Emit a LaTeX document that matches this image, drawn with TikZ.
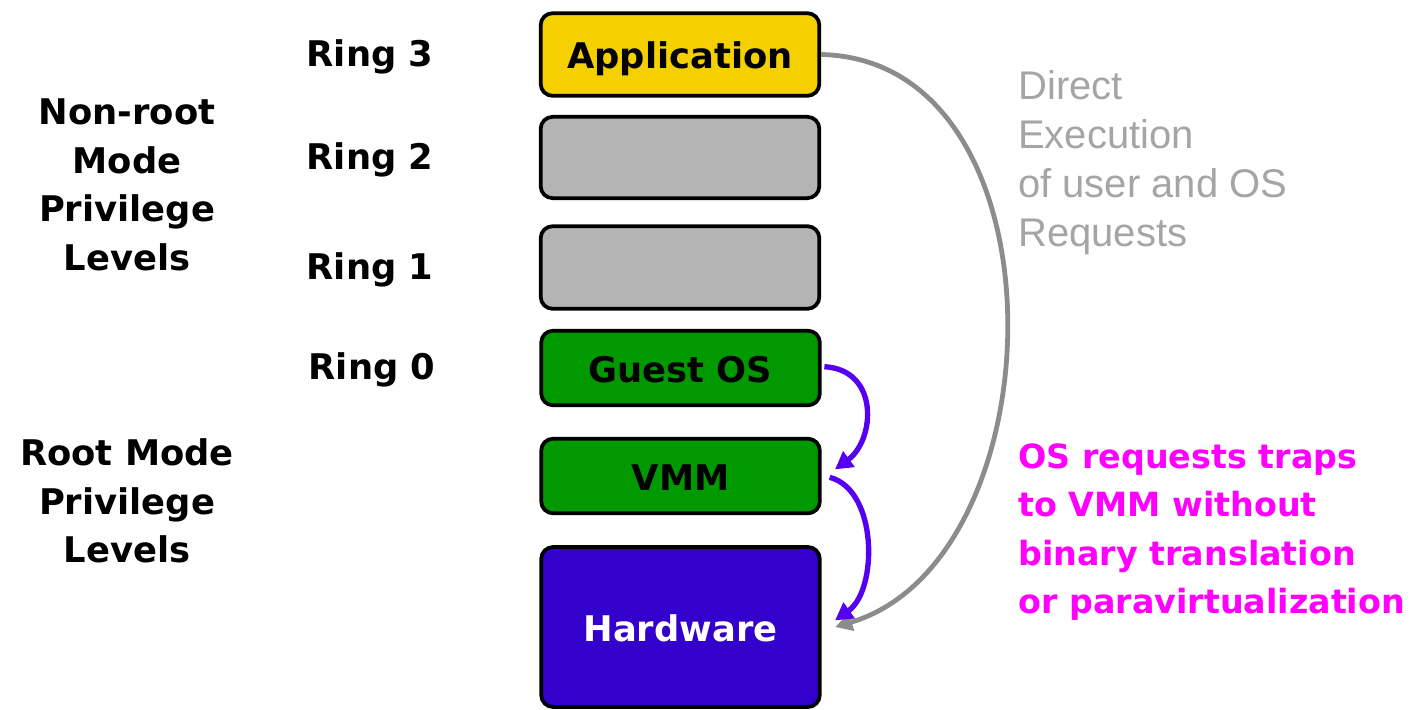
\documentclass[tikz,border=0pt]{standalone}
\usepackage{fontspec}
\setmainfont{DejaVu Sans}
\newfontfamily\arialfont{Liberation Sans}
\usetikzlibrary{arrows.meta}
\definecolor{appyellow}{RGB}{245,208,0}
\definecolor{ringgray}{RGB}{180,180,180}
\definecolor{osgreen}{RGB}{0,153,0}
\definecolor{hwpurple}{RGB}{51,0,204}
\definecolor{arrowpurple}{RGB}{85,0,240}
\definecolor{arrowgray}{RGB}{140,140,140}
\definecolor{textgray}{RGB}{165,165,165}
\definecolor{pinktext}{RGB}{255,0,255}
\tikzset{
  layer/.style={draw=black, line width=2.8pt, rounded corners=9pt, inner sep=0pt,
    minimum width=209pt, text height=21pt, text depth=0pt,
    font=\fontsize{26.5}{30}\selectfont\bfseries},
  lbl/.style={font=\fontsize{26.5}{36.5}\selectfont\bfseries, align=center, inner sep=0pt},
  trap/.style={draw=arrowpurple, line width=4pt, -{Triangle[length=13pt,width=14pt]}},
  direct/.style={draw=arrowgray, line width=3.6pt, -{Triangle[length=13pt,width=13pt]}}
}
\begin{document}
\begin{tikzpicture}[x=0.75pt,y=-0.75pt]
\useasboundingbox (0,0) rectangle (1414,710);
% boxes
\node[layer, fill=appyellow, minimum height=62pt] (app) at (680,54.5) {Application};
\node[layer, fill=ringgray, minimum height=61pt] (r2) at (680,157.5) {};
\node[layer, fill=ringgray, minimum height=62pt] (r1) at (680,267.5) {};
\node[layer, fill=osgreen, minimum height=56pt] (gos) at (680.5,368) {Guest OS};
\node[layer, fill=osgreen, minimum height=56pt] (vmm) at (680.5,476) {VMM};
\node[layer, fill=hwpurple, minimum height=120pt, text=white] (hw) at (680.5,627) {Hardware};
% ring labels
\node[lbl] (ring3) at (370,57) {Ring 3};
\node[lbl] (ring2) at (370,160) {Ring 2};
\node[lbl] (ring1) at (370,270) {Ring 1};
\node[lbl] (ring0) at (372,370) {Ring 0};
% mode labels
\node[lbl] (nonroot) at (127,185) {Non-root\\Mode\\Privilege\\Levels};
\node[lbl] (root) at (127,501) {Root Mode\\Privilege\\Levels};
% right texts
\node[anchor=west, align=left, inner sep=0pt, text=textgray,
  font=\arialfont\fontsize{30}{36.75}\selectfont] (direct) at (1018,163)
  {Direct\\Execution\\of user and OS\\Requests};
\node[anchor=west, align=left, inner sep=0pt, text=pinktext,
  font=\fontsize{25}{36.4}\selectfont\bfseries] (traps) at (1018,532)
  {OS requests traps\\to VMM without\\binary translation\\or paravirtualization};
% arrows
\draw[direct] (app.east) .. controls (1070,60) and (1060,560) .. ([xshift=10pt]hw.east);
\draw[trap] ([xshift=2pt,yshift=1pt]gos.east) .. controls (880,370) and (875,440) .. ([xshift=10pt,yshift=5pt]vmm.east);
\draw[trap] ([xshift=6pt,yshift=-1pt]vmm.east) .. controls (878,490) and (878,590) .. ([xshift=10pt,yshift=5pt]hw.east);
\end{tikzpicture}
\end{document}
